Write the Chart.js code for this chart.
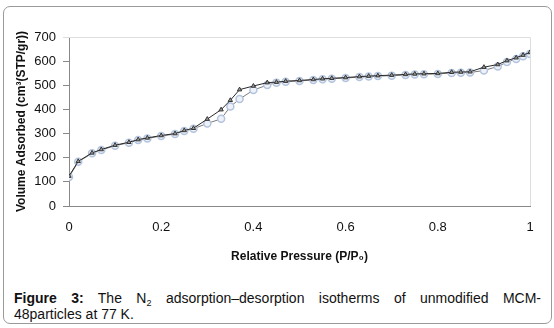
<!DOCTYPE html>
<html>
<head>
<meta charset="utf-8">
<script src="https://cdn.jsdelivr.net/npm/chart.js@4"></script>
<style>
  html, body { margin: 0; padding: 0; background: #fff; }
  body { width: 554px; height: 328px; position: relative; overflow: hidden; font-family: "Liberation Sans", Arial, sans-serif; }
  #frame { position: absolute; left: 3px; top: 6px; width: 547px; height: 316px; border: 1px solid #9a9a9a; border-radius: 7px; }
  #chartBox { position: absolute; left: 0; top: 0; width: 554px; height: 275px; }
  #caption { position: absolute; left: 14px; top: 290px; width: 527px; font-size: 14px; line-height: 16px; color: #111; }
  #caption .full { display: block; text-align: justify; text-align-last: justify; white-space: nowrap; }
  #caption sub { font-size: 9px; line-height: 0; vertical-align: -3px; }
</style>
</head>
<body>
<div id="frame"></div>
<div id="chartBox"><canvas id="isotherm"></canvas></div>
<div id="caption"><span class="full"><b>Figure 3:</b> The N<sub>2</sub> adsorption&ndash;desorption isotherms of unmodified MCM-</span>48particles at 77 K.</div>
<script>
// relative pressure P/P0 of each measured point
const pressure = [0, 0.02, 0.05, 0.07, 0.10, 0.13, 0.15, 0.17, 0.20, 0.23, 0.25, 0.27,
  0.30, 0.33, 0.35, 0.37, 0.40, 0.43, 0.45, 0.47, 0.50, 0.53, 0.55, 0.57, 0.60, 0.63,
  0.65, 0.67, 0.70, 0.73, 0.75, 0.77, 0.80, 0.83, 0.85, 0.87, 0.90, 0.93, 0.95, 0.97, 0.985, 1.0];

// volume adsorbed, cm3(STP)/g
const adsorption = [120, 183, 218, 232, 250, 262, 273, 280, 290, 298, 311, 320,
  342, 361, 412, 443, 480, 501, 511, 515, 518, 522, 525, 527, 530, 534,
  536, 538, 540, 543, 545, 546, 547, 551, 552, 553, 561, 578, 596, 609, 620, 630];
const desorption = [124, 185, 220, 234, 252, 264, 275, 282, 292, 300, 313, 322,
  360, 399, 438, 482, 497, 511, 513, 517, 520, 524, 527, 529, 532, 536,
  538, 540, 542, 545, 547, 548, 549, 554, 555, 556, 575, 586, 602, 614, 625, 636];

const xTicks = [0, 0.2, 0.4, 0.6, 0.8, 1];

const toPoints = values => values.map((v, i) => ({ x: pressure[i], y: v }));

// light frame on the top and right of the plot area
const plotFrame = {
  id: "plotFrame",
  beforeDatasetsDraw(chart) {
    const { ctx, chartArea: a } = chart;
    ctx.save();
    ctx.strokeStyle = "#dedede";
    ctx.lineWidth = 1;
    ctx.beginPath();
    ctx.moveTo(a.left - 6, a.top + 0.5);
    ctx.lineTo(a.right + 0.5, a.top + 0.5);
    ctx.lineTo(a.right + 0.5, a.bottom);
    ctx.stroke();
    ctx.restore();
  }
};

const tickFont = { family: "Liberation Sans", size: 13 };
const titleFont = { family: "Liberation Sans", size: 12, weight: "bold" };

new Chart(document.getElementById("isotherm"), {
  type: "scatter",
  data: {
    datasets: [
      {
        label: "Adsorption",
        data: toPoints(adsorption),
        order: 1,
        showLine: true,
        borderColor: "#7a7a7a",
        borderWidth: 1,
        pointStyle: "circle",
        pointRadius: 3.5,
        pointBorderWidth: 1.5,
        pointBorderColor: "#b3c4de",
        pointBackgroundColor: "#eef2f8"
      },
      {
        label: "Desorption",
        data: toPoints(desorption),
        order: 0,
        showLine: true,
        borderColor: "#2a2a2a",
        borderWidth: 1,
        pointStyle: "triangle",
        pointRadius: 2.5,
        pointBorderWidth: 1,
        pointBorderColor: "#333",
        pointBackgroundColor: "#9a9a9a"
      }
    ]
  },
  options: {
    responsive: true,
    maintainAspectRatio: false,
    animation: false,
    layout: { padding: { left: 10, right: 24, top: 37, bottom: 7 } },
    plugins: {
      legend: { display: false },
      tooltip: { enabled: false }
    },
    scales: {
      x: {
        type: "linear",
        min: 0,
        max: 1,
        afterBuildTicks: scale => { scale.ticks = xTicks.map(v => ({ value: v })); },
        afterFit: scale => { scale.height = 62; },
        grid: { display: false, drawOnChartArea: false, drawTicks: true, tickLength: 5, tickColor: "#888" },
        border: { color: "#888" },
        ticks: { font: tickFont, color: "#111", padding: 9, maxRotation: 0, callback: v => String(v) },
        title: { display: true, text: "Relative Pressure (P/P\u2080)", font: titleFont, color: "#111" }
      },
      y: {
        min: 0,
        max: 700,
        afterFit: scale => { scale.width = 59; },
        grid: { drawOnChartArea: false, tickLength: 6, tickColor: "#888" },
        border: { color: "#888" },
        ticks: { stepSize: 100, font: tickFont, color: "#111", padding: 7 },
        title: { display: true, text: "Volume Adsorbed (cm\u00b3(STP/gr))", font: titleFont, color: "#111" }
      }
    }
  },
  plugins: [plotFrame]
});
</script>
</body>
</html>
